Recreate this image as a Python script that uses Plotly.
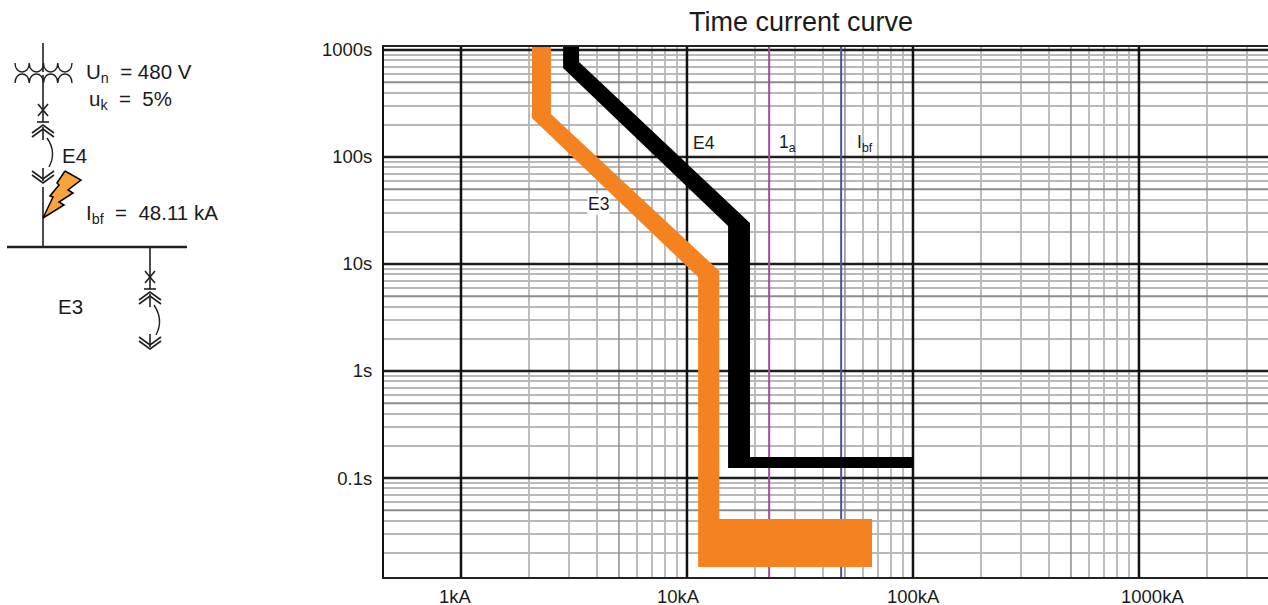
import plotly.graph_objects as go

FONT = "Liberation Sans"

# chart data (kA, seconds)
e4_current = [2.83, 2.83, 15.2, 15.2, 100, 100, 19.0, 19.0, 3.33, 3.33]
e4_time = [1084, 679, 22.6, 0.124, 0.124, 0.157, 0.157, 24.2, 772, 1084]
e3_current = [2.06, 2.06, 11.2, 11.2, 65.9, 65.9, 13.9, 13.9, 2.50, 2.50]
e3_time = [1067, 231, 7.56, 0.0147, 0.0147, 0.0414, 0.0414, 8.6, 252, 1067]
ia_current = 23.1
ibf_current = 48.11
x_decades = [1, 10, 100, 1000]
x_tick_labels = ["1kA", "10kA", "100kA", "1000kA"]
x_tick_centers = [455, 678, 913, 1152]
y_decades = [0.1, 1, 10, 100, 1000]
y_tick_labels = ["0.1s", "1s", "10s", "100s", "1000s"]
x_fives = [5, 50, 500]
y_fives = [0.05, 0.5, 5, 50, 500]
x_minor = [m * d for d in (1, 10, 100) for m in (2, 3, 4, 6, 7, 8, 9)] + [2000, 3000]
y_minor = [m * d for d in (0.01, 0.1, 1, 10, 100) for m in (2, 3, 4, 6, 7, 8, 9)]
x_log_range = [-0.3407, 3.571]
y_log_range = [-1.925, 3.028]
y_ends = [0.0119, 1067]
x_ends = [0.456, 3724]

fig = go.Figure()


def lines_v(xs, color, width):
    px, py = [], []
    for x in xs:
        px += [x, x, None]
        py += [y_ends[0], y_ends[1], None]
    fig.add_trace(go.Scatter(x=px, y=py, mode="lines", line=dict(color=color, width=width),
                             hoverinfo="skip", showlegend=False))


def lines_h(ys, color, width):
    px, py = [], []
    for y in ys:
        px += [x_ends[0], x_ends[1], None]
        py += [y, y, None]
    fig.add_trace(go.Scatter(x=px, y=py, mode="lines", line=dict(color=color, width=width),
                             hoverinfo="skip", showlegend=False))


lines_v(x_fives, "#8c8c8c", 1.5)
lines_h(y_fives, "#8c8c8c", 2)
lines_h(y_decades, "#1e1e1e", 2.5)
lines_v(x_decades, "#111111", 2.5)
lines_v([ia_current], "#a5489f", 2)
lines_v([ibf_current], "#4f4fa3", 2)

fig.add_trace(go.Scatter(x=e4_current, y=e4_time, mode="lines", fill="toself", fillcolor="#000000",
                         line=dict(width=0), name="E4", showlegend=False))
fig.add_trace(go.Scatter(x=e3_current, y=e3_time, mode="lines", fill="toself", fillcolor="#f58220",
                         line=dict(width=0), name="E3", showlegend=False))

# single-line diagram, on a full-page overlay axis in page units
seg = []


def L(*pts):
    for p in pts:
        seg.append(p)
    seg.append((None, None))


def breaker(cx, y, top):
    L((cx, top), (cx, y + 12))
    L((cx - 5, y - 6), (cx + 5, y + 6))
    L((cx - 5, y + 6), (cx + 5, y - 6))
    L((cx - 6, y + 12), (cx + 6, y + 12))


def chev_up(cx, y):
    for d in (0, 4):
        L((cx - 11, y + d + 8), (cx, y + d), (cx + 11, y + d + 8))
    L((cx, y + 2), (cx, y + 15))


def chev_dn(cx, y):
    for d in (0, 4):
        L((cx - 11, y + d - 8), (cx, y + d), (cx + 11, y + d - 8))
    L((cx, y + 2), (cx, y - 11))


L((43, 43), (43, 72))
breaker(43, 110, 75)
chev_up(43, 125)
chev_dn(43, 179)
L((43, 187), (43, 247))
L((150, 247), (150, 265))
breaker(150, 277, 265)
chev_up(150, 292)
chev_dn(150, 345)

fig.add_trace(go.Scatter(x=[p[0] for p in seg], y=[p[1] for p in seg], mode="lines",
                         line=dict(color="#231f20", width=1.6), xaxis="x2", yaxis="y2",
                         hoverinfo="skip", showlegend=False))
fig.add_trace(go.Scatter(x=[7, 187], y=[247, 247], mode="lines",
                         line=dict(color="#231f20", width=2.6), xaxis="x2", yaxis="y2",
                         hoverinfo="skip", showlegend=False))
bolt_x = [65, 81, 68, 73, 59, 64, 43, 53, 50, 59, 57, 65]
bolt_y = [171, 180, 190, 193, 202, 205, 218, 197, 196, 185, 183, 171]
fig.add_trace(go.Scatter(x=bolt_x, y=bolt_y, mode="lines", fill="toself", fillcolor="#f9a33c",
                         line=dict(color="#000000", width=1.5), xaxis="x2", yaxis="y2",
                         hoverinfo="skip", showlegend=False))

shapes = []


def path(d, color="#231f20", w=1.4):
    shapes.append(dict(type="path", path=d, xref="x2", yref="y2",
                       line=dict(color=color, width=w), layer="above"))


cups = "M15,63 " + " ".join(f"C{15 + 14.25 * i},75 {29.25 + 14.25 * i},75 {29.25 + 14.25 * i},63" for i in range(4))
arches = "M15,83 " + " ".join(f"C{15 + 14.25 * i},71 {29.25 + 14.25 * i},71 {29.25 + 14.25 * i},83" for i in range(4))
path(cups)
path(arches)
path("M47,138 Q57,152 49,167")
path("M154,305 Q164,320 156,335")

annotations = []


def text(x, y, s, size=20.5, anchor="left", bg=None):
    annotations.append(dict(x=x, y=y, xref="x2", yref="y2", text=s, showarrow=False, xanchor=anchor,
                            yanchor="middle", bgcolor=bg, borderpad=0,
                            font=dict(family=FONT, size=size, color="#1a1a1a")))


text(85, 73, "U<sub>n</sub>  = 480 V")
text(88, 100, "u<sub>k</sub>  =  5%")
text(61, 155, "E4")
text(85, 214, "I<sub>bf</sub>  =  48.11 kA")
text(57, 306, "E3")
text(704, 143, "E4", 17.5, "center", "white")
text(598, 204, "E3", 17.5, "center", "white")
text(778, 143, "1<sub>a</sub>", 17.5)
text(856, 143, "I<sub>bf</sub>", 17.5)
for c, s in zip(x_tick_centers, x_tick_labels):
    text(c, 596, s, 18.5, "center")

fig.update_layout(
    width=1268, height=605, margin=dict(l=0, r=0, t=0, b=0),
    paper_bgcolor="white", plot_bgcolor="rgba(0,0,0,0)",
    font=dict(family=FONT, size=18.5, color="#1a1a1a"),
    title=dict(text="Time current curve", x=801 / 1268, xanchor="center", y=1 - 22 / 605, yanchor="middle",
               font=dict(family=FONT, size=27, color="#1a1a1a")),
    xaxis=dict(type="log", automargin=False, domain=[384 / 1268, 1], range=x_log_range, tickvals=x_decades,
               showticklabels=False, showgrid=False, zeroline=False, showline=True, linecolor="#222222",
               linewidth=2, mirror=True,
               minor=dict(tickmode="array", tickvals=x_minor, showgrid=True, gridcolor="#bdbdbd", gridwidth=1.5,
                          ticks="")),
    yaxis=dict(type="log", automargin=False, domain=[28 / 605, 558 / 605], range=y_log_range, tickvals=y_decades,
               ticktext=y_tick_labels, showgrid=False, zeroline=False, showline=True, linecolor="#111111",
               linewidth=2, ticks="outside", ticklen=6, tickcolor="rgba(0,0,0,0)",
               minor=dict(tickmode="array", tickvals=y_minor, showgrid=True, gridcolor="#b8b8b8", gridwidth=2,
                          ticks="")),
    xaxis2=dict(domain=[0, 1], range=[0, 1268], visible=False, anchor="y2", fixedrange=True, automargin=False),
    yaxis2=dict(domain=[0, 1], range=[605, 0], visible=False, anchor="x2", fixedrange=True, automargin=False),
    shapes=shapes, annotations=annotations,
)
fig.write_html("out.html", config=dict(displayModeBar=False),
               post_script="document.body.style.margin='0';document.body.style.overflow='hidden';")
